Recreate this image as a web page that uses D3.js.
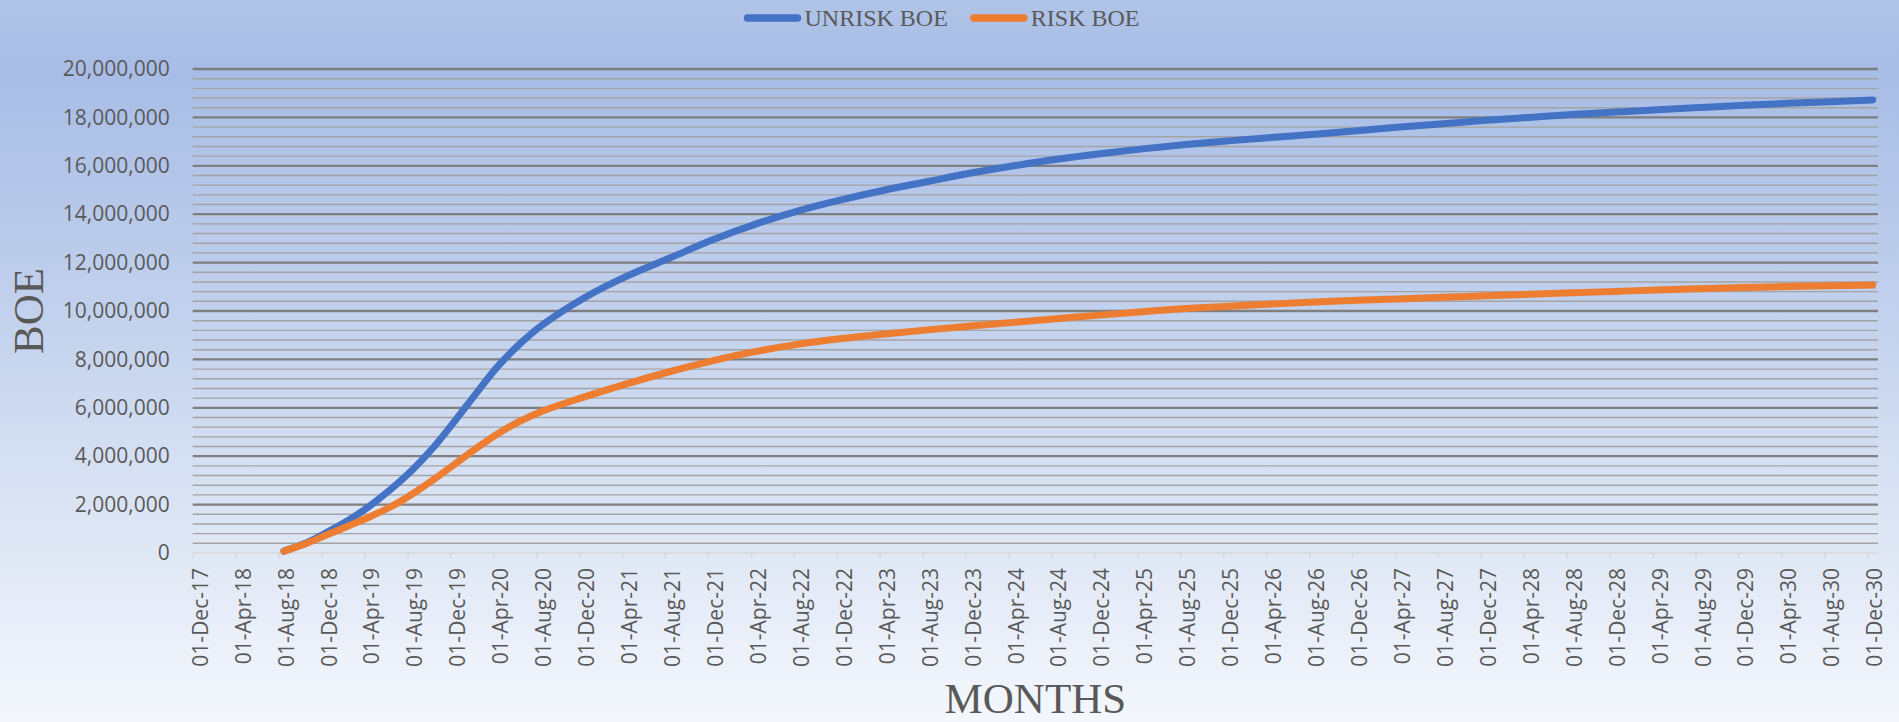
<!DOCTYPE html>
<html>
<head>
<meta charset="utf-8">
<script src="https://cdn.jsdelivr.net/npm/d3@7"></script>
<style>
body { margin: 0; background: #fff; }
</style>
</head>
<body>
<svg id="chart" width="1899" height="722"></svg>
<script>
// series names / colours
var seriesNames = ["UNRISK BOE", "RISK BOE"];
var seriesColors = ["#4472c4", "#ed7d31"];

// months of the read values (first of month)
var months = ["Aug-18", "Oct-18", "Dec-18", "Feb-19", "Apr-19", "Jun-19", "Aug-19", "Oct-19",
    "Dec-19", "Feb-20", "Apr-20", "Jun-20", "Aug-20", "Dec-20", "Apr-21", "Aug-21", "Dec-21",
    "Apr-22", "Aug-22", "Dec-22", "Apr-23", "Aug-23", "Dec-23", "Apr-24", "Aug-24", "Dec-24",
    "Apr-25", "Aug-25", "Dec-25", "Apr-26", "Aug-26", "Dec-26", "Apr-27", "Aug-27", "Dec-27",
    "Apr-28", "Aug-28", "Dec-28", "Apr-29", "Aug-29", "Dec-29", "Apr-30", "Aug-30", "Dec-30"];

var unriskBoe = [80000, 400000, 850000, 1350000, 1950000, 2650000, 3450000, 4400000,
    5500000, 6650000, 7750000, 8650000, 9400000, 10550000, 11450000, 12200000, 12950000,
    13600000, 14150000, 14600000, 15000000, 15350000, 15700000, 16000000, 16270000, 16500000,
    16700000, 16880000, 17030000, 17170000, 17300000, 17450000, 17600000, 17740000, 17880000,
    18000000, 18120000, 18220000, 18320000, 18410000, 18500000, 18580000, 18650000, 18720000];

var riskBoe = [80000, 380000, 750000, 1120000, 1500000, 1920000, 2450000, 3050000,
    3700000, 4350000, 4950000, 5450000, 5850000, 6450000, 7000000, 7500000, 7950000,
    8330000, 8630000, 8860000, 9050000, 9220000, 9380000, 9530000, 9680000, 9830000,
    9970000, 10100000, 10200000, 10290000, 10370000, 10440000, 10500000, 10570000, 10630000,
    10690000, 10750000, 10810000, 10870000, 10920000, 10970000, 11010000, 11040000, 11070000];

var tickLabels = ["01-Dec-17", "01-Apr-18", "01-Aug-18", "01-Dec-18", "01-Apr-19", "01-Aug-19",
    "01-Dec-19", "01-Apr-20", "01-Aug-20", "01-Dec-20", "01-Apr-21", "01-Aug-21", "01-Dec-21",
    "01-Apr-22", "01-Aug-22", "01-Dec-22", "01-Apr-23", "01-Aug-23", "01-Dec-23", "01-Apr-24",
    "01-Aug-24", "01-Dec-24", "01-Apr-25", "01-Aug-25", "01-Dec-25", "01-Apr-26", "01-Aug-26",
    "01-Dec-26", "01-Apr-27", "01-Aug-27", "01-Dec-27", "01-Apr-28", "01-Aug-28", "01-Dec-28",
    "01-Apr-29", "01-Aug-29", "01-Dec-29", "01-Apr-30", "01-Aug-30", "01-Dec-30"];

var yTicks = [0, 2000000, 4000000, 6000000, 8000000, 10000000, 12000000, 14000000,
    16000000, 18000000, 20000000];


var width = 1899, height = 722;
var margin = {left: 192.7, right: 21, top: 69, bottom: 169};
var labelColor = "#595959";

var svg = d3.select("#chart");

// background gradient
var grad = svg.append("defs").append("linearGradient")
    .attr("id", "bg").attr("x1", 0).attr("y1", 0).attr("x2", 0).attr("y2", 1);
[[0, "#afc4e6"], [0.1, "#a8bde6"], [0.45, "#c3d2ed"], [0.72, "#dce5f4"], [1, "#f4f7fd"]]
    .forEach(function (s) {
        grad.append("stop").attr("offset", s[0]).attr("stop-color", s[1]);
    });
svg.append("rect").attr("width", width).attr("height", height).attr("fill", "url(#bg)");

var parseMonth = d3.utcParse("%b-%y");
var axisStart = parseMonth("Dec-17");
var monthIndex = function (label) {
    return d3.utcMonth.count(axisStart, parseMonth(label));
};

var x = d3.scaleLinear()
    .domain([0, 157])
    .range([margin.left, width - margin.right]);

var y = d3.scaleLinear()
    .domain([0, 20000000])
    .range([height - margin.bottom, margin.top]);

// minor gridlines
var minorTicks = d3.range(400000, 20000000, 400000).filter(function (v) {
    return v % 2000000 !== 0;
});
svg.append("g").selectAll("line")
    .data(minorTicks)
    .enter().append("line")
    .attr("x1", x(0)).attr("x2", x(157))
    .attr("y1", function (d) { return y(d); })
    .attr("y2", function (d) { return y(d); })
    .attr("stroke", "#a3a3a3")
    .attr("stroke-width", 1.4);

// major gridlines
svg.append("g").selectAll("line")
    .data(yTicks.slice(1))
    .enter().append("line")
    .attr("x1", x(0)).attr("x2", x(157))
    .attr("y1", function (d) { return y(d); })
    .attr("y2", function (d) { return y(d); })
    .attr("stroke", "#7f7f7f")
    .attr("stroke-width", 2.3);

// y axis labels
var yAxis = d3.axisLeft(y)
    .tickValues(yTicks)
    .tickSize(0)
    .tickPadding(23)
    .tickFormat(d3.format(","));
var gy = svg.append("g")
    .attr("transform", "translate(" + margin.left + ",0)")
    .call(yAxis);
gy.select(".domain").remove();
gy.selectAll("text")
    .attr("fill", labelColor)
    .style("font-family", "'Open Sans', sans-serif")
    .style("font-size", "21px");

// x axis
var xTickValues = d3.range(0, 157, 4);
var xAxis = d3.axisBottom(x)
    .tickValues(xTickValues)
    .tickSize(6)
    .tickFormat(function (d, i) { return tickLabels[i]; });
var gx = svg.append("g")
    .attr("transform", "translate(0," + y(0) + ")")
    .call(xAxis);
gx.select(".domain").attr("stroke", "#d9d9d9").attr("stroke-width", 1.6)
    .attr("d", "M" + x(0) + ",0H" + x(157));
gx.selectAll(".tick line").attr("stroke", "#d9d9d9").attr("stroke-width", 1.6);
gx.selectAll(".tick text")
    .attr("fill", labelColor)
    .style("font-family", "'Open Sans', sans-serif")
    .style("font-size", "21px")
    .attr("text-anchor", "end")
    .attr("transform", "translate(14.5,15) rotate(-90)")
    .attr("x", 0).attr("y", 0).attr("dy", 0);

// lines
var line = d3.line()
    .x(function (d) { return x(d.m + 0.5); })
    .y(function (d) { return y(d.v); })
    .curve(d3.curveCatmullRom.alpha(0.5));

var series = [unriskBoe, riskBoe].map(function (vals, k) {
    return {
        name: seriesNames[k],
        color: seriesColors[k],
        values: vals.map(function (v, i) { return {m: monthIndex(months[i]), v: v}; })
    };
});

svg.append("g").selectAll("path")
    .data(series)
    .enter().append("path")
    .attr("d", function (d) { return line(d.values); })
    .attr("fill", "none")
    .attr("stroke", function (d) { return d.color; })
    .attr("stroke-width", 7)
    .attr("stroke-linecap", "round")
    .attr("stroke-linejoin", "round");

// axis titles
svg.append("text")
    .attr("transform", "translate(43," + ((margin.top + y(0)) / 2) + ") rotate(-90)")
    .attr("text-anchor", "middle")
    .attr("fill", labelColor)
    .style("font-family", "'Liberation Serif', 'Times New Roman', serif")
    .style("font-size", "43px")
    .text("BOE");

svg.append("text")
    .attr("x", (x(0) + x(157)) / 2)
    .attr("y", 713)
    .attr("text-anchor", "middle")
    .attr("fill", labelColor)
    .style("font-family", "'Liberation Serif', 'Times New Roman', serif")
    .style("font-size", "43px")
    .text("MONTHS");

// legend
var legend = svg.append("g");
var lx = 0;
series.forEach(function (s, k) {
    var item = legend.append("g").attr("transform", "translate(" + lx + ",0)");
    item.append("line")
        .attr("x1", 4).attr("x2", 54).attr("y1", 18).attr("y2", 18)
        .attr("stroke", s.color).attr("stroke-width", 7.5)
        .attr("stroke-linecap", "round");
    var t = item.append("text")
        .attr("x", 61).attr("y", 26)
        .attr("fill", labelColor)
        .style("font-family", "'Liberation Serif', 'Times New Roman', serif")
        .style("font-size", "24px")
        .text(s.name);
    lx += 61 + t.node().getComputedTextLength() + 22;
});
var lw = lx - 22;
legend.attr("transform", "translate(" + (941.5 - lw / 2) + ",0)");
</script>
</body>
</html>
